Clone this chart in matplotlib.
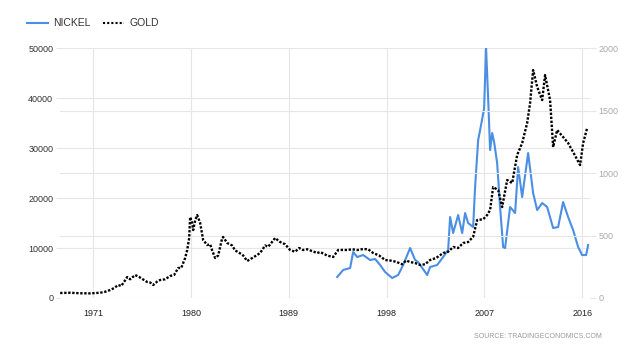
import matplotlib.pyplot as plt
from matplotlib.lines import Line2D

# nickel, USD/tonne (left axis)
nickel_years = [1993.45, 1994.00, 1994.64, 1994.92, 1995.29, 1995.84, 1996.48, 1996.94,
                1997.40, 1997.86, 1998.51, 1999.06, 1999.52, 2000.16, 2000.62, 2000.90,
                2001.73, 2002.00, 2002.65, 2003.20, 2003.66, 2003.84, 2004.12, 2004.58,
                2004.95, 2005.22, 2005.50, 2005.96, 2006.14, 2006.42, 2006.69, 2006.97,
                2007.15, 2007.34, 2007.52, 2007.71, 2007.89, 2008.17, 2008.44, 2008.72,
                2008.90, 2009.36, 2009.82, 2010.10, 2010.47, 2011.02, 2011.48, 2011.85,
                2012.31, 2012.77, 2013.32, 2013.78, 2014.24, 2014.70, 2015.16, 2015.62,
                2015.99, 2016.36, 2016.54]
nickel = [4200, 5600, 6000, 9200, 8200, 8600, 7600, 7800,
          6600, 5200, 4000, 4600, 6600, 10000, 7600, 7200,
          4600, 6200, 6600, 8200, 9600, 16200, 13000, 16600,
          13000, 17000, 15000, 14200, 22200, 31600, 34600, 38000,
          50000, 40000, 29600, 33000, 31200, 27000, 18200, 10200,
          10000, 18200, 17000, 26200, 20200, 29000, 21000, 17600,
          19000, 18200, 14000, 14200, 19200, 16200, 13600, 10200,
          8600, 8600, 10600]

# gold, USD/oz (right axis)
gold_years = [1967.96, 1968.88, 1969.80, 1970.72, 1971.64, 1972.10, 1972.56, 1972.93,
              1973.30, 1973.58, 1973.85, 1974.13, 1974.40, 1974.86, 1975.23, 1975.60,
              1975.97, 1976.24, 1976.52, 1976.89, 1977.16, 1977.62, 1978.08, 1978.45,
              1978.82, 1979.10, 1979.46, 1979.65, 1979.83, 1979.92, 1980.11, 1980.20,
              1980.38, 1980.57, 1980.84, 1981.12, 1981.49, 1981.76, 1981.95, 1982.22,
              1982.50, 1982.87, 1982.96, 1983.33, 1983.79, 1984.06, 1984.34, 1984.80,
              1985.17, 1985.63, 1986.00, 1986.36, 1986.82, 1987.10, 1987.47, 1987.74,
              1988.20, 1988.66, 1989.12, 1989.58, 1989.95, 1990.32, 1990.69, 1991.15,
              1991.61, 1991.88, 1992.53, 1993.08, 1993.54, 1994.00, 1994.37, 1994.83,
              1995.29, 1995.84, 1996.30, 1996.76, 1997.31, 1997.86, 1998.32, 1998.87,
              1999.43, 1999.79, 2000.16, 2000.62, 2001.08, 2001.54, 2002.00, 2002.55,
              2003.20, 2003.66, 2004.12, 2004.58, 2005.04, 2005.50, 2005.96, 2006.33,
              2006.88, 2007.25, 2007.52, 2007.80, 2008.26, 2008.63, 2009.09, 2009.55,
              2010.01, 2010.47, 2010.93, 2011.20, 2011.48, 2011.85, 2012.31, 2012.58,
              2013.04, 2013.32, 2013.69, 2014.24, 2014.70, 2015.16, 2015.80, 2016.08,
              2016.45]
gold = [40, 42, 38, 37, 42, 50, 64, 80,
        104, 96, 130, 168, 150, 184, 168, 148,
        128, 124, 104, 132, 144, 150, 176, 185,
        240, 240, 320, 384, 480, 648, 600, 544,
        620, 664, 600, 464, 424, 430, 380, 320,
        340, 480, 488, 440, 420, 380, 368, 340,
        296, 320, 340, 360, 420, 410, 450, 480,
        448, 430, 384, 370, 400, 384, 390, 375,
        360, 368, 340, 328, 384, 385, 384, 390,
        384, 392, 390, 360, 340, 304, 300, 290,
        270, 300, 288, 280, 264, 270, 304, 320,
        360, 370, 408, 400, 440, 448, 490, 624,
        630, 664, 704, 888, 864, 728, 944, 920,
        1144, 1240, 1400, 1560, 1824, 1690, 1584, 1784,
        1584, 1208, 1344, 1288, 1240, 1168, 1064, 1240,
        1360]

x_ticks = [1971, 1980, 1989, 1998, 2007, 2016]
left_ticks = [0, 10000, 20000, 30000, 40000, 50000]
right_ticks = [0, 500, 1000, 1500, 2000]

plt.rcParams['font.family'] = ['Liberation Sans', 'DejaVu Sans']

fig = plt.figure(figsize=(6.4, 3.51), dpi=100)
ax = fig.add_axes([0.094, 0.151, 0.828, 0.712])
ax2 = ax.twinx()

grid_c = '#e6e6e6'
ax.plot(nickel_years, nickel, color='#4a8fe4', lw=1.5, zorder=3)
ax2.plot(gold_years, gold, color='black', lw=1.7, linestyle=(0, (1, 0.7)), zorder=3)

ax.set_xlim(1967.96, 2016.72)
ax.set_ylim(0, 50000)
ax2.set_ylim(0, 2000)

ax.set_xticks(x_ticks)
ax.set_yticks(left_ticks)
ax2.set_yticks(right_ticks)
ax.set_xticklabels([str(t) for t in x_ticks])
ax.set_yticklabels([str(t) for t in left_ticks])

ax.grid(True, color=grid_c, lw=0.8)
ax.set_axisbelow(True)
for v in right_ticks[1:-1]:
    ax2.axhline(v, color=grid_c, lw=0.8, zorder=0)

for a in (ax, ax2):
    for s in a.spines.values():
        s.set_visible(False)

ax.tick_params(axis='x', length=0, labelsize=6.5, labelcolor='#222222', pad=8)
ax.tick_params(axis='y', length=3, color=grid_c, labelsize=6.5, labelcolor='#333333', pad=2)
ax2.tick_params(axis='y', length=4, color=grid_c, labelsize=6.5, labelcolor='#aaaaaa', pad=2)

handles = [Line2D([], [], color='#4a8fe4', lw=1.5),
           Line2D([], [], color='black', lw=1.5, linestyle=(0, (1, 1)))]
fig.legend(handles, ['NICKEL', 'GOLD'], loc='upper left', bbox_to_anchor=(0.028, 0.975),
           ncol=2, frameon=False, fontsize=7.5, handlelength=2.0, handletextpad=0.5,
           columnspacing=1.2, labelcolor='#333333')

fig.text(0.941, 0.04, 'SOURCE: TRADINGECONOMICS.COM', ha='right', va='center',
         fontsize=5, color='#999999', family=['Liberation Sans Narrow', 'Liberation Sans'])

fig.savefig('out.png', dpi=100)
